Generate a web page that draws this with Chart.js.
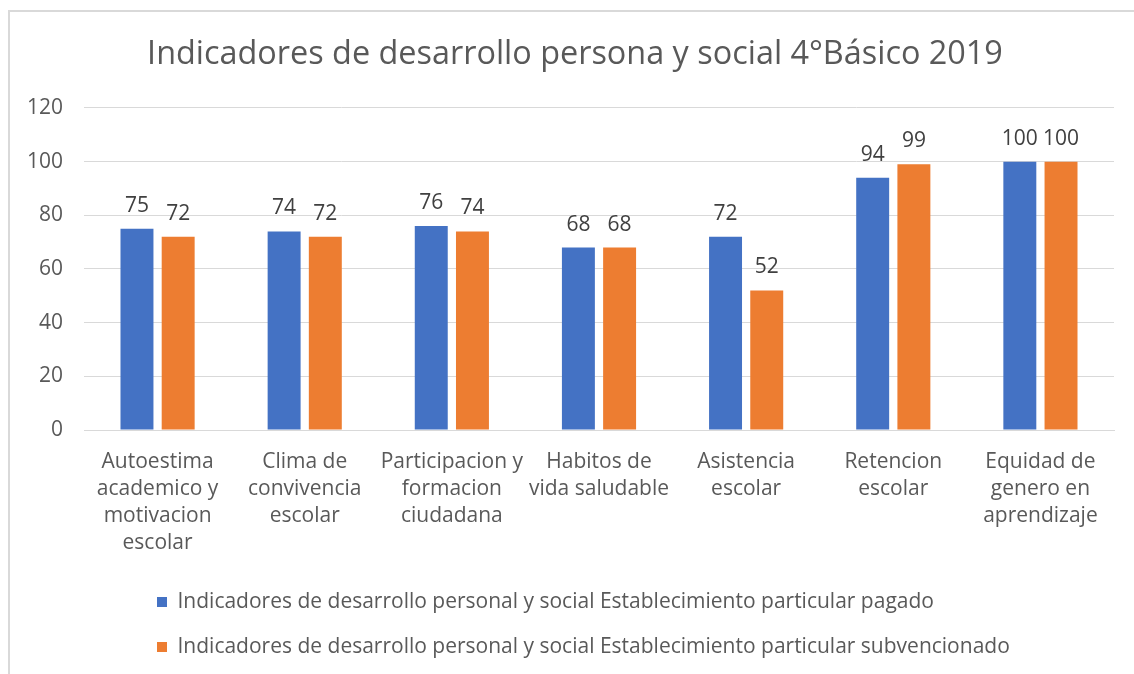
<!DOCTYPE html>
<html>
<head>
<meta charset="utf-8">
<script src="https://cdn.jsdelivr.net/npm/chart.js@4"></script>
<style>
  body { margin: 0; background: #fff; }
</style>
</head>
<body>
<canvas id="chart" width="1134" height="674"></canvas>
<script>
var categories = [
    ["Autoestima", "academico y", "motivacion", "escolar"],
    ["Clima de", "convivencia", "escolar"],
    ["Participacion y", "formacion", "ciudadana"],
    ["Habitos de", "vida saludable"],
    ["Asistencia", "escolar"],
    ["Retencion", "escolar"],
    ["Equidad de", "genero en", "aprendizaje"]
]
var pagado = [75, 74, 76, 68, 72, 94, 100]
var subvencionado = [72, 72, 74, 68, 52, 99, 100]
var seriesNames = [
    "Indicadores de desarrollo personal y social Establecimiento particular pagado",
    "Indicadores de desarrollo personal y social Establecimiento particular subvencionado"
]
var yTicks = [0, 20, 40, 60, 80, 100, 120]

var FONT = "'Open Sans'"
var GREY = "#595959"

// frame around the chart (only top and left edges are visible in the image)
const frame = {
    id: 'frame',
    beforeDraw(chart) {
        const ctx = chart.ctx
        ctx.save()
        ctx.fillStyle = '#fff'
        ctx.fillRect(0, 0, chart.width, chart.height)
        ctx.strokeStyle = '#d9d9d9'
        ctx.lineWidth = 2
        ctx.strokeRect(9, 11, chart.width + 20, chart.height + 20)
        ctx.restore()
    }
}

// value labels above each bar
const barValues = {
    id: 'barValues',
    afterDatasetsDraw(chart) {
        const ctx = chart.ctx
        ctx.save()
        ctx.font = '21px ' + FONT
        ctx.fillStyle = '#404040'
        ctx.textAlign = 'center'
        ctx.textBaseline = 'middle'
        chart.data.datasets.forEach((ds, i) => {
            chart.getDatasetMeta(i).data.forEach((bar, j) => {
                ctx.fillText(ds.data[j], bar.x, bar.y - 23)
            })
        })
        ctx.restore()
    }
}

// legend sits left-aligned under the plot, title a bit right of canvas centre
const blockShift = {
    id: 'blockShift',
    afterLayout(chart) {
        chart.legend.left = 133
        chart.legend.top = 567.5
        chart.titleBlock.left += 8
        chart.titleBlock.right += 8
    }
}

const data = {
    labels: categories,
    datasets: [{
        label: seriesNames[0],
        data: pagado,
        backgroundColor: '#4472C4'
    }, {
        label: seriesNames[1],
        data: subvencionado,
        backgroundColor: '#ED7D31'
    }]
}

const config = {
    type: 'bar',
    data: data,
    options: {
        responsive: false,
        animation: false,
        devicePixelRatio: 1,
        layout: { padding: { left: 20, right: 20, top: 0, bottom: 0 } },
        datasets: { bar: { barPercentage: 0.8, categoryPercentage: 0.56 } },
        scales: {
            x: {
                grid: { display: false, drawTicks: false },
                border: { color: '#d9d9d9' },
                ticks: {
                    font: { family: FONT, size: 21, lineHeight: 1.29 },
                    color: GREY,
                    padding: 18.5,
                    maxRotation: 0,
                    autoSkip: false
                },
                afterFit(scale) { scale.height = 144 }
            },
            y: {
                min: 0,
                max: 120,
                afterBuildTicks(scale) { scale.ticks = yTicks.map(v => ({ value: v })) },
                grid: { color: '#d9d9d9', drawTicks: false },
                border: { display: false },
                ticks: {
                    font: { family: FONT, size: 21 },
                    color: GREY,
                    padding: 21
                },
                afterFit(scale) { scale.width = 64 }
            }
        },
        plugins: {
            title: {
                display: true,
                text: 'Indicadores de desarrollo persona y social 4°Básico 2019',
                color: GREY,
                font: { family: FONT, size: 32.4, weight: 'normal', lineHeight: 1.2 },
                padding: { top: 35.6, bottom: 33.5 }
            },
            legend: {
                position: 'bottom',
                align: 'start',
                labels: {
                    boxWidth: 10,
                    boxHeight: 10,
                    padding: 24,
                    color: GREY,
                    font: { family: FONT, size: 21 }
                }
            },
            tooltip: { enabled: false }
        }
    },
    plugins: [frame, barValues, blockShift]
}

const myChart = new Chart(document.getElementById('chart'), config)
</script>
</body>
</html>
